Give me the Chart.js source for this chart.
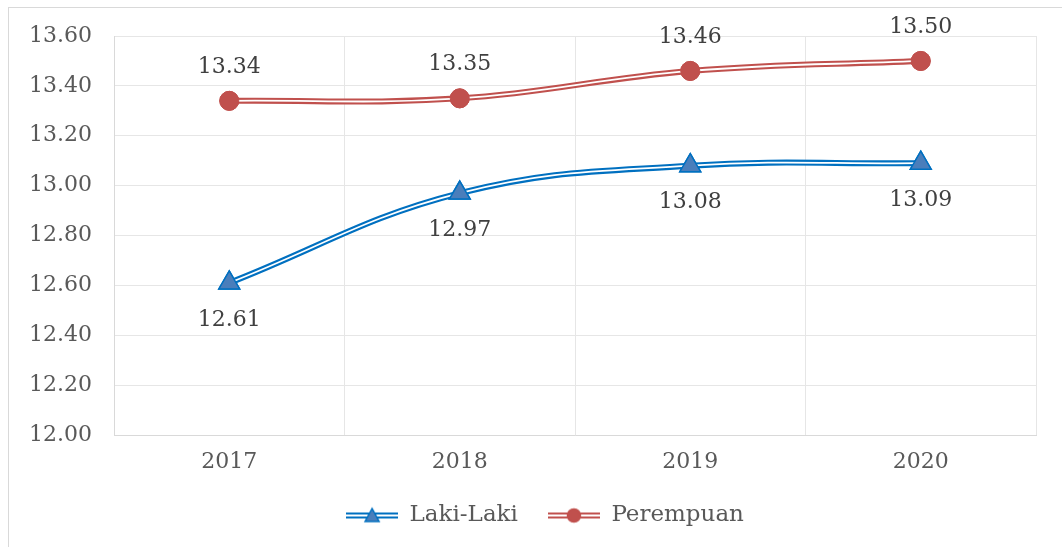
<!DOCTYPE html>
<html lang="id">
<head>
<meta charset="UTF-8">
<title>Rata-rata Lama Sekolah menurut Jenis Kelamin</title>
<script src="https://cdn.jsdelivr.net/npm/chart.js"></script>
<style>
  body { margin: 0; background: #fff; overflow: hidden; }
  #frame { position: absolute; left: 8px; top: 7px; width: 1100px; height: 600px; border: 1.5px solid #d9d9d9; }
  #wrap { position: absolute; left: 0; top: 0; width: 1062px; height: 547px; }
</style>
</head>
<body>
<div id="frame"></div>
<div id="wrap"><canvas id="chart"></canvas></div>
<script>
// data
const years = ['2017', '2018', '2019', '2020'];
const lakiLaki = [12.61, 12.97, 13.08, 13.09];
const perempuan = [13.34, 13.35, 13.46, 13.50];
const yMin = 12.0;
const yMax = 13.6;
const yStep = 0.2;

const FONT = '"DejaVu Serif", "Liberation Serif", serif';
const FONT_SIZE = 22;
const BLUE = '#0070C0';
const BLUE_FILL = '#4A7EBB';
const RED = '#C0504D';

// small canvas with a double line and a marker, used as legend symbol
function legendIcon(color, fill, shape) {
  const c = document.createElement('canvas');
  c.width = 52; c.height = 20;
  const g = c.getContext('2d');
  g.strokeStyle = color; g.lineWidth = 6;
  g.beginPath(); g.moveTo(0, 10); g.lineTo(52, 10); g.stroke();
  g.strokeStyle = '#fff'; g.lineWidth = 1.8;
  g.beginPath(); g.moveTo(0, 10); g.lineTo(52, 10); g.stroke();
  g.fillStyle = fill; g.strokeStyle = color; g.lineWidth = 1.5;
  g.beginPath();
  if (shape === 'triangle') {
    g.moveTo(26, 3); g.lineTo(33, 16); g.lineTo(19, 16); g.closePath();
  } else {
    g.arc(26, 10, 6.5, 0, Math.PI * 2);
  }
  g.fill(); g.stroke();
  return c;
}
const icons = [legendIcon(BLUE, BLUE_FILL, 'triangle'), legendIcon(RED, RED, 'circle')];

// white core over each line gives the compound (double) stroke, then markers on top
const doubleLine = {
  id: 'doubleLine',
  afterDatasetDraw(chart, args) {
    const meta = args.meta;
    const ctx = chart.ctx;
    ctx.save();
    ctx.beginPath();
    meta.dataset.path(ctx);
    ctx.lineWidth = 1.8;
    ctx.strokeStyle = '#fff';
    ctx.lineJoin = 'round';
    ctx.stroke();
    ctx.restore();
    meta.data.forEach(p => p.draw(ctx, chart.chartArea));
  }
};

// value labels above / below the points
const valueLabels = {
  id: 'valueLabels',
  afterDatasetsDraw(chart) {
    const ctx = chart.ctx;
    ctx.save();
    ctx.font = FONT_SIZE + 'px ' + FONT;
    ctx.fillStyle = '#404040';
    ctx.textAlign = 'center';
    ctx.textBaseline = 'middle';
    chart.data.datasets.forEach((ds, i) => {
      chart.getDatasetMeta(i).data.forEach((pt, j) => {
        ctx.fillText(ds.data[j].toFixed(2), pt.x, pt.y + ds.labelShift);
      });
    });
    ctx.restore();
  }
};

// draw the legend a little right of the canvas centre
const legendShift = {
  id: 'legendShift',
  afterLayout(chart) {
    const legend = chart.legend;
    if (!legend || legend._shifted) return;
    const draw = legend.draw;
    legend.draw = function (area) {
      const ctx = this.ctx;
      ctx.save();
      ctx.translate(27, 0);
      draw.call(this, area);
      ctx.restore();
    };
    legend._shifted = true;
  }
};

new Chart(document.getElementById('chart'), {
  type: 'line',
  data: {
    labels: years,
    datasets: [
      {
        label: 'Laki-Laki',
        data: lakiLaki,
        borderColor: BLUE,
        borderWidth: 6,
        tension: 0.4,
        pointStyle: 'triangle',
        pointRadius: 12,
        pointBackgroundColor: BLUE_FILL,
        pointBorderColor: BLUE,
        pointBorderWidth: 1.5,
        labelShift: 37
      },
      {
        label: 'Perempuan',
        data: perempuan,
        borderColor: RED,
        borderWidth: 6,
        tension: 0.4,
        pointStyle: 'circle',
        pointRadius: 9.5,
        pointBackgroundColor: RED,
        pointBorderColor: RED,
        pointBorderWidth: 1,
        labelShift: -34
      }
    ]
  },
  options: {
    responsive: true,
    maintainAspectRatio: false,
    animation: false,
    layout: { padding: { top: 36, right: 26, bottom: 10, left: 0 } },
    plugins: {
      tooltip: { enabled: false },
      legend: {
        position: 'bottom',
        labels: {
          usePointStyle: true,
          pointStyleWidth: 52,
          padding: 30,
          color: '#595959',
          font: { family: FONT, size: 23 },
          generateLabels(chart) {
            return chart.data.datasets.map((ds, i) => ({
              text: ds.label,
              pointStyle: icons[i],
              datasetIndex: i,
              fillStyle: 'transparent',
              strokeStyle: 'transparent',
              lineWidth: 0,
              fontColor: '#595959',
              hidden: false
            }));
          }
        }
      }
    },
    scales: {
      x: {
        offset: true,
        grid: { offset: true, color: '#e6e6e6', drawTicks: false },
        border: { color: '#d9d9d9' },
        ticks: { padding: 14, color: '#595959', font: { family: FONT, size: FONT_SIZE } },
        afterFit(s) { s.height = 39; }
      },
      y: {
        min: yMin,
        max: yMax,
        grid: { color: '#e6e6e6', drawTicks: false },
        border: { color: '#d9d9d9' },
        ticks: {
          stepSize: yStep,
          padding: 22,
          color: '#595959',
          font: { family: FONT, size: FONT_SIZE },
          callback: v => v.toFixed(2)
        },
        afterFit(s) { s.width = 114; }
      }
    }
  },
  plugins: [doubleLine, valueLabels, legendShift]
});
</script>
</body>
</html>
